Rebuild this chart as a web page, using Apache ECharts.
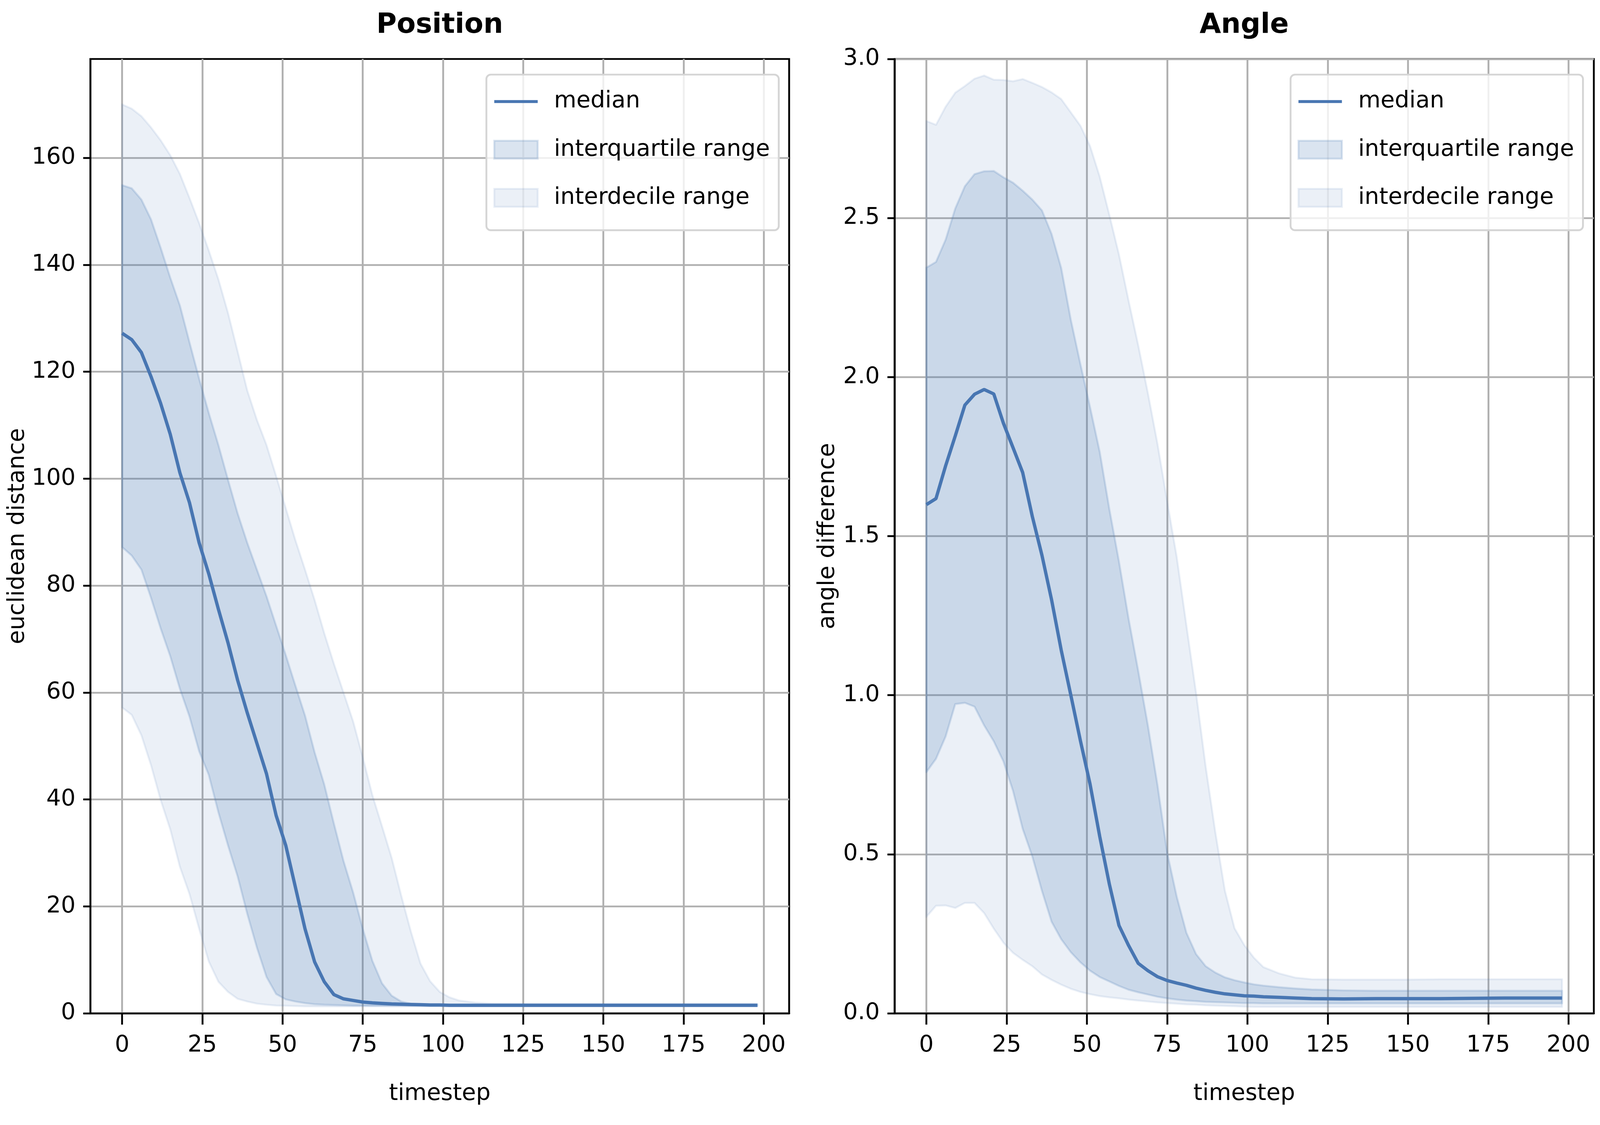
<!DOCTYPE html>
<html>
<head>
<meta charset="utf-8">
<title>Position / Angle</title>
<script src="https://cdn.jsdelivr.net/npm/echarts@6/dist/echarts.min.js"></script>
<style>
html, body { margin: 0; padding: 0; background: #fff; overflow: hidden; }
#main { width: 100vw; height: 100vh; }
</style>
</head>
<body>
<div id="main"></div>
<script>
// timesteps shared by every series
var timesteps = [0,3,6,9,12,15,18,21,24,27,30,33,36,39,42,45,48,51,54,57,60,63,66,69,72,75,78,81,84,87,90,93,96,99,102,105,
                 110,115,120,130,140,150,160,170,180,190,198];

// Position: euclidean distance
var posMedian = [127.2,126.0,123.6,119.1,114.1,108.3,101.1,95.5,88.0,82.2,75.6,69.3,62.3,56.2,50.5,44.8,37.0,31.4,23.6,15.8,9.6,5.9,3.5,2.7,2.4,2.1,1.95,1.85,1.75,1.7,1.65,1.6,1.55,1.55,1.5,1.5,
                 1.5,1.5,1.5,1.5,1.5,1.5,1.5,1.5,1.5,1.5,1.5];
var posQ75 = [154.9,154.3,152.2,148.5,143.2,137.6,132.4,125.5,118.7,112.3,106.3,99.8,93.5,88.0,83.0,78.0,72.5,67.0,61.3,55.7,48.8,42.8,35.5,28.5,22.6,15.8,9.8,5.6,3.3,2.2,1.8,1.7,1.65,1.62,1.6,1.6,
              1.6,1.6,1.6,1.6,1.6,1.6,1.6,1.6,1.6,1.6,1.6];
var posQ90 = [170,169.2,167.8,165.7,163.3,160.5,157,152.5,147.8,142.7,137.3,131,123.8,116.5,111,106.3,100.5,94.5,88.5,83,77.3,71.1,65.4,60,54.6,47.9,40.8,35,29.1,22,15.3,9.3,6.0,4.0,3.0,2.4,
              2.0,1.85,1.8,1.75,1.75,1.75,1.75,1.75,1.75,1.75,1.75];
var posQ25 = [87.2,85.6,83.0,77.7,72.0,66.8,60.7,55.5,49.0,44.6,37.6,31.4,25.6,18.6,12.3,6.8,3.6,2.6,2.2,1.9,1.7,1.6,1.55,1.5,1.45,1.45,1.42,1.42,1.4,1.4,1.4,1.4,1.4,1.4,1.4,1.4,
              1.4,1.4,1.4,1.4,1.4,1.4,1.4,1.4,1.4,1.4,1.4];
var posQ10 = [57.2,55.8,52.0,46.4,39.9,34.4,27.4,22.3,15.8,9.7,5.9,4.0,2.7,2.2,1.8,1.6,1.45,1.4,1.35,1.3,1.3,1.3,1.3,1.3,1.3,1.3,1.3,1.3,1.3,1.3,1.3,1.3,1.3,1.3,1.3,1.3,
              1.3,1.3,1.3,1.3,1.3,1.3,1.3,1.3,1.3,1.3,1.3];

// Angle: angle difference
var angMedian = [1.599,1.618,1.721,1.815,1.912,1.946,1.961,1.947,1.855,1.778,1.70,1.562,1.44,1.30,1.142,1.0,0.856,0.72,0.556,0.406,0.276,0.213,0.157,0.134,0.115,0.103,0.095,0.088,0.079,0.072,0.066,0.061,0.058,0.055,0.054,0.052,
                 0.05,0.048,0.046,0.045,0.046,0.046,0.046,0.047,0.048,0.048,0.048];
var angQ75 = [2.344,2.362,2.432,2.530,2.60,2.638,2.647,2.648,2.628,2.611,2.586,2.558,2.524,2.45,2.343,2.18,2.04,1.905,1.765,1.585,1.42,1.24,1.076,0.905,0.717,0.505,0.366,0.253,0.186,0.148,0.128,0.113,0.104,0.097,0.091,0.087,
              0.082,0.078,0.075,0.072,0.071,0.071,0.071,0.071,0.071,0.071,0.071];
var angQ90 = [2.805,2.793,2.850,2.894,2.915,2.938,2.948,2.935,2.934,2.930,2.937,2.925,2.912,2.895,2.874,2.832,2.79,2.726,2.63,2.51,2.385,2.24,2.10,1.95,1.79,1.61,1.434,1.22,1.008,0.776,0.57,0.385,0.267,0.215,0.175,0.145,
              0.125,0.112,0.107,0.106,0.106,0.106,0.107,0.107,0.107,0.107,0.107];
var angQ25 = [0.758,0.80,0.87,0.972,0.976,0.964,0.905,0.855,0.792,0.699,0.58,0.493,0.385,0.288,0.233,0.192,0.16,0.134,0.114,0.10,0.086,0.074,0.066,0.059,0.052,0.047,0.043,0.040,0.038,0.036,0.035,0.034,0.033,0.032,0.032,0.031,
              0.031,0.031,0.031,0.031,0.031,0.031,0.031,0.031,0.031,0.031,0.031];
var angQ10 = [0.303,0.338,0.339,0.331,0.347,0.347,0.315,0.266,0.222,0.19,0.168,0.148,0.122,0.105,0.09,0.077,0.067,0.06,0.054,0.05,0.047,0.043,0.04,0.037,0.034,0.032,0.03,0.028,0.027,0.025,0.024,0.023,0.022,0.021,0.02,0.02,
              0.02,0.02,0.02,0.02,0.02,0.02,0.02,0.02,0.02,0.02,0.02];

var xTicks = [0,25,50,75,100,125,150,175,200];
var posTicks = [0,20,40,60,80,100,120,140,160];
var angTicks = [0,0.5,1.0,1.5,2.0,2.5,3.0];

var FONT = 'DejaVu Sans';
var BLUE = 'rgb(72,118,178)';
var IQR = 'rgba(72,118,178,0.2)';
var IDR = 'rgba(72,118,178,0.11)';

// layout was measured on a 6480x2880 canvas; scale it to the real window
var W = window.innerWidth, H = window.innerHeight;
var sx = W / 6480, sy = H / 2880;
var f = Math.min(1, Math.pow(sx, 0.75) * Math.pow(sy, 0.25));
var FS = 83 * f, LW = 6.67 * f;

function pairs(ys) {
    return timesteps.map(function (t, i) { return [t, ys[i]]; });
}
// filled band between lo and hi, outlined like matplotlib's fill_between
function band(idx, name, lo, hi, fill) {
    return {
        name: name, type: 'custom', xAxisIndex: idx, yAxisIndex: idx,
        data: timesteps.map(function (t, i) { return [t, lo[i], hi[i]]; }),
        encode: { x: 0, y: [1, 2] },
        itemStyle: { color: fill }, silent: true, clip: true,
        renderItem: function (params, api) {
            if (params.dataIndex !== 0) return null;
            var pts = [], i;
            for (i = 0; i < timesteps.length; i++) pts.push(api.coord([timesteps[i], hi[i]]));
            for (i = timesteps.length - 1; i >= 0; i--) pts.push(api.coord([timesteps[i], lo[i]]));
            return {
                type: 'polygon', shape: { points: pts },
                style: { fill: fill, stroke: fill, lineWidth: 7 * f, lineJoin: 'round' }
            };
        }
    };
}
function medianLine(idx, ys) {
    return {
        name: 'median', type: 'line', xAxisIndex: idx, yAxisIndex: idx, data: pairs(ys),
        symbol: 'none', lineStyle: { color: BLUE, width: 12 * f }, itemStyle: { color: BLUE }, z: 5
    };
}

function xAxis(idx) {
    return {
        type: 'value', gridIndex: idx, min: -9.9, max: 207.9,
        name: 'timestep', nameLocation: 'middle', nameGap: 207 * sy - FS / 2,
        nameTextStyle: { fontSize: FS, color: '#000', fontFamily: FONT },
        axisLine: { show: true, onZero: false, lineStyle: { color: '#000', width: LW } },
        axisTick: { show: true, length: 29 * sy, customValues: xTicks, lineStyle: { color: '#000', width: LW } },
        axisLabel: { fontSize: FS, color: '#000', margin: 61 * sy - 11 * f, fontFamily: FONT, customValues: xTicks },
        splitLine: { show: true, lineStyle: { color: '#b0b0b0', width: LW } }
    };
}
function yAxis(idx, name, max, ticks, center, digits) {
    return {
        type: 'value', gridIndex: idx, min: 0, max: max,
        name: name, nameLocation: 'middle', nameGap: center * sx - FS / 2, nameRotate: 90,
        nameTextStyle: { fontSize: FS, color: '#000', fontFamily: FONT },
        axisLine: { show: true, onZero: false, lineStyle: { color: '#000', width: LW } },
        axisTick: { show: true, length: 29 * sx, customValues: ticks, lineStyle: { color: '#000', width: LW } },
        axisLabel: {
            fontSize: FS, color: '#000', margin: 60 * sx, fontFamily: FONT, customValues: ticks,
            formatter: function (v) { return v.toFixed(digits); }
        },
        splitLine: { show: true, lineStyle: { color: '#b0b0b0', width: LW } }
    };
}
function legend(rightEdge) {
    return {
        orient: 'vertical', right: W - rightEdge * sx, top: 191 * sy,
        padding: [69 * sy - FS / 2, 36 * sx, 83 * sy - FS / 2, 28 * sx],
        itemGap: 123 * sy - FS, itemWidth: 176 * sx, itemHeight: 65 * f, selectedMode: false,
        backgroundColor: 'rgba(255,255,255,0.8)', borderColor: '#d5d5d5', borderWidth: LW, borderRadius: 16 * f,
        textStyle: { fontSize: FS, color: '#000', fontFamily: FONT, padding: [0, 0, 0, 66 * sx - 5] },
        data: [
            { name: 'median', icon: 'path://M0,0h176v12h-176z', itemStyle: { color: BLUE, borderWidth: 0 } },
            { name: 'interquartile range', icon: 'rect', itemStyle: { color: IQR, borderColor: IQR, borderWidth: 7 * f } },
            { name: 'interdecile range', icon: 'rect', itemStyle: { color: IDR, borderColor: IDR, borderWidth: 7 * f } }
        ]
    };
}
function title(text, center) {
    return {
        text: text, left: center * sx, top: 66 * sy - 50 * f, padding: 0, textAlign: 'center',
        textStyle: { fontSize: 100 * f, fontWeight: 'bold', color: '#000', fontFamily: FONT }
    };
}
function grid(left, width) {
    return {
        left: left * sx, top: 151 * sy, width: width * sx, height: 2443 * sy,
        show: true, borderColor: '#000', borderWidth: LW, backgroundColor: 'transparent', outerBoundsMode: 'none'
    };
}

var chart = echarts.init(document.getElementById('main'), null, { renderer: 'canvas' });
var series = [
    band(0, 'interdecile range', posQ10, posQ90, IDR),
    band(0, 'interquartile range', posQ25, posQ75, IQR),
    medianLine(0, posMedian),
    band(1, 'interdecile range', angQ10, angQ90, IDR),
    band(1, 'interquartile range', angQ25, angQ75, IQR),
    medianLine(1, angMedian)
];

chart.setOption({
    animation: false,
    backgroundColor: '#fff',
    title: [title('Position', 1781), title('Angle', 5039)],
    grid: [grid(366, 2830), grid(3623, 2832)],
    legend: [legend(3154), legend(6411)],
    xAxis: [xAxis(0), xAxis(1)],
    yAxis: [
        yAxis(0, 'euclidean distance', 178.5, posTicks, 294, 0),
        yAxis(1, 'angle difference', 3.0, angTicks, 269, 1)
    ],
    series: series
});
</script>
</body>
</html>
